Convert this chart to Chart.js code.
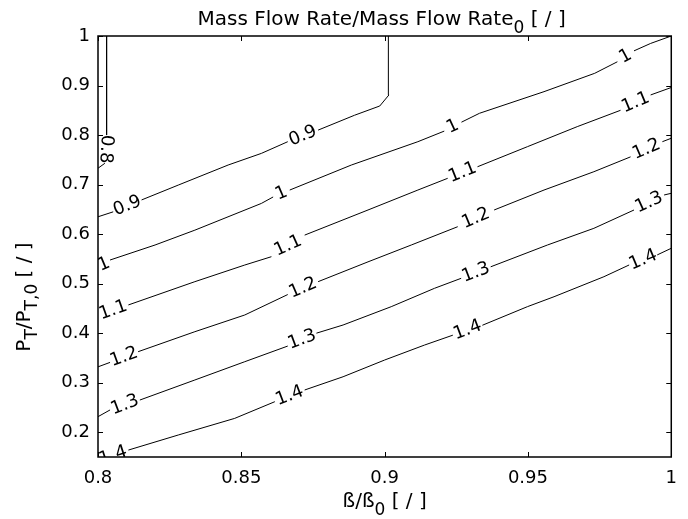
<!DOCTYPE html>
<html><head><meta charset="utf-8">
<script src="https://cdn.jsdelivr.net/npm/chart.js@4"></script>
<style>html,body{margin:0;padding:0;background:#fff}canvas{display:block}</style>
</head><body>
<canvas id="c" width="688" height="519"></canvas>
<script>
// ---- data ----
const xTicks = [0.8, 0.85, 0.9, 0.95, 1];
const xTickLabels = ['0.8', '0.85', '0.9', '0.95', '1'];
const yTicks = [0.2, 0.3, 0.4, 0.5, 0.6, 0.7, 0.8, 0.9, 1];
const yTickLabels = ['0.2', '0.3', '0.4', '0.5', '0.6', '0.7', '0.8', '0.9', '1'];
const levelLabels = ['0.8', '0.9', '1', '1.1', '1.2', '1.3', '1.4'];

// null marks a break in the line where a contour label sits
const x08 = [0.803, 0.803, null, 0.8024, 0.8];
const y08 = [1.0, 0.80, null, 0.743, 0.733];

const x09 = [0.8, 0.8053, null, 0.8152, 0.828, 0.8454, 0.857, 0.8662, null, 0.8768, 0.8895, 0.8983, 0.9015, 0.9013];
const y09 = [0.635, 0.645, null, 0.669, 0.699, 0.7395, 0.763, 0.7866, null, 0.810, 0.840, 0.8587, 0.881, 1.0];

const x10 = [0.8, null, 0.8042, 0.8199, 0.8338, 0.857, 0.8611, null, 0.8669, 0.8884, 0.9116, 0.9208, null, 0.9268, 0.9331, 0.9556, 0.9733, 0.9812, null, 0.987, 0.9928, 1.0];
const y10 = [0.53, null, 0.5477, 0.578, 0.608, 0.662, 0.675, null, 0.689, 0.7395, 0.7866, 0.808, null, 0.826, 0.844, 0.8876, 0.9247, 0.948, null, 0.970, 0.985, 1.0];

const x11 = [0.8, null, 0.8106, 0.8338, 0.8512, 0.8605, null, 0.8721, 0.8942, 0.9116, 0.922, null, 0.9324, 0.9498, 0.9672, 0.9823, null, 0.9928, 1.0];
const y11 = [0.435, null, 0.457, 0.504, 0.5376, 0.5544, null, 0.598, 0.6487, 0.689, 0.7127, null, 0.736, 0.7765, 0.817, 0.850, null, 0.881, 0.896];

const x12 = [0.8, 0.8042, null, 0.814, 0.8338, 0.8512, 0.8662, null, 0.8768, 0.8942, 0.9093, 0.9255, null, 0.9382, 0.9556, 0.973, 0.9858, null, 0.9969, 1.0];
const y12 = [0.332, 0.341, null, 0.3626, 0.403, 0.4367, 0.478, null, 0.504, 0.544, 0.578, 0.615, null, 0.6487, 0.689, 0.726, 0.756, null, 0.7866, 0.7935];

const x13 = [0.8, 0.8042, null, 0.8146, 0.8338, 0.8512, 0.8662, null, 0.8762, 0.8855, 0.9023, 0.9174, 0.9267, null, 0.937, 0.9568, 0.973, 0.987, null, 0.9975, 1.0];
const y13 = [0.2314, 0.245, null, 0.265, 0.3055, 0.3424, 0.374, null, 0.4, 0.4165, 0.4535, 0.4906, 0.5108, null, 0.534, 0.578, 0.6117, 0.6487, null, 0.679, 0.6824];

const x14 = [0.8, null, 0.8106, 0.828, 0.8477, 0.8617, null, 0.8721, 0.8855, 0.9, 0.9139, 0.9238, null, 0.9341, 0.9498, 0.9591, 0.9765, 0.9853, null, 0.9951, 1.0];
const y14 = [0.141, null, 0.164, 0.1944, 0.228, 0.2617, null, 0.2853, 0.312, 0.3458, 0.376, 0.396, null, 0.416, 0.4535, 0.4736, 0.514, 0.5377, null, 0.558, 0.5714];

const contourX = [x08, x09, x10, x11, x12, x13, x14];
const contourY = [y08, y09, y10, y11, y12, y13, y14];

// ---- drawing ----
const FONT = '"DejaVu Sans", "Liberation Sans", sans-serif';

function drawRich(ctx, parts, cx, base, mainSize, subSize, subDrop) {
  const mf = mainSize + 'px ' + FONT, sf = subSize + 'px ' + FONT;
  let total = 0;
  parts.forEach(p => { ctx.font = p.sub ? sf : mf; total += ctx.measureText(p.t).width; });
  let x = cx - total / 2;
  ctx.textAlign = 'left';
  ctx.textBaseline = 'alphabetic';
  parts.forEach(p => {
    ctx.font = p.sub ? sf : mf;
    ctx.fillText(p.t, x, base + (p.sub ? subDrop : 0));
    x += ctx.measureText(p.t).width;
  });
}

const deco = {
  id: 'deco',
  afterDatasetsDraw(chart) {
    const { ctx, chartArea: a, scales: { x, y } } = chart;
    // contour labels
    ctx.save();
    ctx.beginPath();
    ctx.rect(a.left, a.top, a.right - a.left, a.bottom - a.top);
    ctx.clip();
    ctx.fillStyle = '#000';
    ctx.font = '18px ' + FONT;
    ctx.textAlign = 'center';
    ctx.textBaseline = 'middle';
    contourX.forEach((xs, k) => {
      const ys = contourY[k];
      for (let i = 1; i < xs.length - 1; i++) {
        if (ys[i] !== null) continue;
        const px = v => x.getPixelForValue(v), py = v => y.getPixelForValue(v);
        const x0 = px(xs[i - 1]), y0 = py(ys[i - 1]), x1 = px(xs[i + 1]), y1 = py(ys[i + 1]);
        const ia = (i - 2 >= 0 && ys[i - 2] !== null) ? i - 2 : i - 1;
        const ib = (i + 2 < xs.length && ys[i + 2] !== null) ? i + 2 : i + 1;
        const ang = Math.atan2(py(ys[ib]) - py(ys[ia]), px(xs[ib]) - px(xs[ia]));
        ctx.save();
        ctx.translate((x0 + x1) / 2, (y0 + y1) / 2);
        ctx.rotate(ang);
        ctx.fillText(levelLabels[k], 0, 0);
        ctx.restore();
      }
    });
    ctx.restore();
  },
  afterDraw(chart) {
    const { ctx, chartArea: a, scales: { x, y } } = chart;
    ctx.save();
    ctx.strokeStyle = '#000';
    ctx.lineWidth = 1;
    // inward tick marks on all four sides
    ctx.beginPath();
    xTicks.forEach(v => {
      const p = Math.round(x.getPixelForValue(v)) + 0.5;
      ctx.moveTo(p, a.bottom); ctx.lineTo(p, a.bottom - 5);
      ctx.moveTo(p, a.top); ctx.lineTo(p, a.top + 5);
    });
    yTicks.forEach(v => {
      const p = Math.round(y.getPixelForValue(v)) + 0.5;
      ctx.moveTo(a.left, p); ctx.lineTo(a.left + 5, p);
      ctx.moveTo(a.right, p); ctx.lineTo(a.right - 5, p);
    });
    ctx.stroke();
    // box
    ctx.lineWidth = 1.5;
    ctx.strokeRect(a.left, a.top, a.right - a.left, a.bottom - a.top);
    ctx.fillStyle = '#000';
    const cx = (a.left + a.right) / 2;
    // title
    drawRich(ctx, [{ t: 'Mass Flow Rate/Mass Flow Rate' }, { t: '0', sub: true }, { t: ' [ / ]' }], cx - 3, 25, 20, 17, 8);
    // x-axis title
    drawRich(ctx, [{ t: 'ß/ß' }, { t: '0', sub: true }, { t: ' [ / ]' }], cx, 507, 20, 17, 8);
    // y-axis title
    ctx.save();
    ctx.translate(30, 297);
    ctx.rotate(-Math.PI / 2);
    drawRich(ctx, [{ t: 'P' }, { t: 'T', sub: true }, { t: '/P' }, { t: 'T,0', sub: true }, { t: ' [ / ]' }], 0, 0, 20, 17, 7);
    ctx.restore();
    ctx.restore();
  }
};

const datasets = contourX.map((xs, k) => ({
  label: levelLabels[k],
  data: xs.map((v, i) => ({ x: v, y: contourY[k][i] })),
  showLine: true,
  spanGaps: false,
  borderColor: '#000',
  borderWidth: 1,
  pointRadius: 0,
  pointHoverRadius: 0,
  fill: false,
  tension: 0
}));

new Chart(document.getElementById('c'), {
  type: 'scatter',
  data: { datasets },
  options: {
    responsive: false,
    animation: false,
    devicePixelRatio: 1,
    layout: { padding: { top: 36, right: 16, left: 0, bottom: 0 } },
    plugins: { legend: { display: false }, tooltip: { enabled: false }, title: { display: false } },
    scales: {
      x: {
        type: 'linear', min: 0.8, max: 1,
        afterBuildTicks: s => { s.ticks = xTicks.map(v => ({ value: v })); },
        afterFit: s => { s.height = 62; },
        grid: { display: false, drawTicks: false },
        border: { display: false },
        ticks: {
          padding: 11, color: '#000', maxRotation: 0, autoSkip: false,
          font: { family: FONT, size: 18 },
          callback: v => xTickLabels[xTicks.findIndex(t => Math.abs(t - v) < 1e-9)]
        }
      },
      y: {
        type: 'linear', min: 0.15, max: 1,
        afterBuildTicks: s => { s.ticks = yTicks.map(v => ({ value: v })); },
        afterFit: s => { s.width = 98; },
        grid: { display: false, drawTicks: false },
        border: { display: false },
        ticks: {
          padding: 8, color: '#000', autoSkip: false,
          font: { family: FONT, size: 18 },
          callback: v => yTickLabels[yTicks.findIndex(t => Math.abs(t - v) < 1e-9)]
        }
      }
    }
  },
  plugins: [deco]
});
</script>
</body></html>
